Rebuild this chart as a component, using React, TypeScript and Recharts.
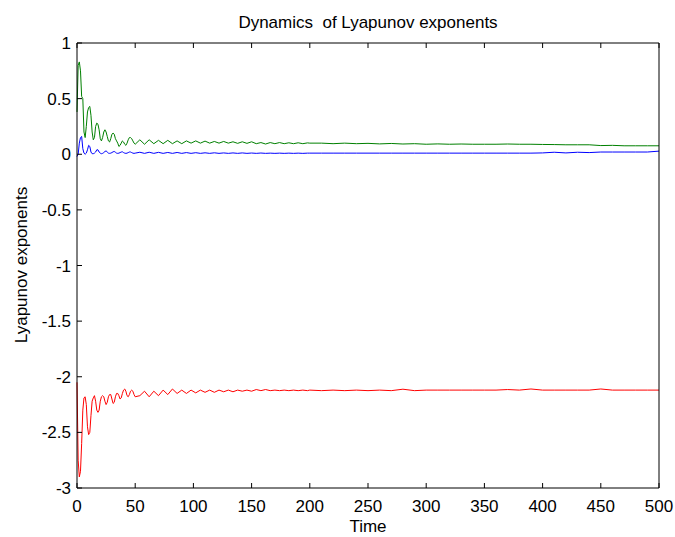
import { LineChart, Line, XAxis, YAxis, Label } from "recharts"

// time samples (dense at the start, coarser later)
const times = [
  0, 1, 2, 3, 4, 5, 6, 7, 8, 9, 10, 11, 12, 13, 14, 15, 16, 17, 18, 19, 20,
  21, 22, 23, 24, 25, 26, 27, 28, 29, 30, 31, 32, 33, 34, 35, 36, 37, 38, 39, 40,
  41, 42, 43, 44, 45, 46, 47, 48, 49, 50,
  54, 58, 62, 66, 70, 74, 78, 82, 86, 90, 94, 98, 102, 106, 110, 114, 118, 122,
  126, 130, 134, 138, 142, 146, 150, 154, 158, 162, 166, 170, 174, 178, 182, 186,
  190, 194, 198,
  200, 210, 220, 230, 240, 250, 260, 270, 280, 290, 300, 310, 320, 330, 340, 350,
  360, 370, 380, 390, 400, 410, 420, 430, 440, 450, 460, 470, 480, 490, 500,
]

const green = [
  0.38, 0.8, 0.83, 0.75, 0.52, 0.5, 0.2, 0.15, 0.25, 0.38,
  0.42, 0.43, 0.35, 0.2, 0.13, 0.15, 0.25, 0.28, 0.27, 0.22,
  0.14, 0.12, 0.15, 0.2, 0.22, 0.2, 0.16, 0.12, 0.11, 0.14,
  0.18, 0.19, 0.18, 0.14, 0.12, 0.1, 0.07, 0.08, 0.1, 0.12,
  0.11, 0.09, 0.08, 0.1, 0.13, 0.15, 0.15, 0.14, 0.12, 0.1, 0.09,
  0.13, 0.09, 0.13, 0.095, 0.125, 0.095, 0.125, 0.095, 0.12, 0.095,
  0.12, 0.1, 0.12, 0.1, 0.118, 0.1, 0.115, 0.1, 0.115, 0.1,
  0.112, 0.098, 0.112, 0.098, 0.112, 0.095, 0.105, 0.092, 0.105, 0.095,
  0.105, 0.095, 0.103, 0.095, 0.103, 0.095, 0.102,
  0.1, 0.1, 0.095, 0.1, 0.095, 0.098, 0.093, 0.097, 0.092, 0.095,
  0.09, 0.093, 0.09, 0.092, 0.09, 0.09, 0.09, 0.092, 0.09, 0.09,
  0.088, 0.087, 0.085, 0.085, 0.085, 0.078, 0.08, 0.076, 0.076, 0.076, 0.076,
]

const blue = [
  -0.02, 0.0, 0.1, 0.15, 0.16, 0.05, 0.01, 0.0, 0.01, 0.04,
  0.08, 0.07, 0.02, 0.005, 0.005, 0.01, 0.02, 0.04, 0.04, 0.02,
  0.01, 0.005, 0.008, 0.015, 0.025, 0.03, 0.02, 0.01, 0.008, 0.01,
  0.015, 0.022, 0.025, 0.018, 0.01, 0.008, 0.01, 0.015, 0.02, 0.022,
  0.015, 0.01, 0.008, 0.01, 0.015, 0.02, 0.02, 0.015, 0.01, 0.008, 0.01,
  0.018, 0.008, 0.018, 0.008, 0.017, 0.008, 0.016, 0.008, 0.016, 0.008,
  0.015, 0.008, 0.014, 0.008, 0.013, 0.008, 0.013, 0.008, 0.012, 0.008,
  0.012, 0.008, 0.012, 0.008, 0.011, 0.008, 0.011, 0.008, 0.01, 0.008,
  0.01, 0.008, 0.01, 0.008, 0.01, 0.008, 0.01,
  0.01, 0.01, 0.01, 0.01, 0.01, 0.01, 0.01, 0.01, 0.01, 0.01,
  0.01, 0.01, 0.01, 0.01, 0.01, 0.01, 0.01, 0.01, 0.01, 0.01,
  0.012, 0.018, 0.012, 0.018, 0.015, 0.02, 0.02, 0.02, 0.02, 0.02, 0.028,
]

const red = [
  -2.05, -2.75, -2.9, -2.85, -2.6, -2.3, -2.19, -2.18, -2.25, -2.45,
  -2.52, -2.5, -2.35, -2.22, -2.19, -2.17, -2.22, -2.3, -2.32, -2.3,
  -2.22, -2.18, -2.17, -2.18, -2.22, -2.25, -2.23, -2.18, -2.16, -2.16,
  -2.2, -2.24, -2.23, -2.18, -2.15, -2.15, -2.17, -2.2, -2.19, -2.15,
  -2.12, -2.11, -2.13, -2.17, -2.18, -2.16, -2.13, -2.12, -2.13, -2.16, -2.18,
  -2.17, -2.13, -2.18, -2.13, -2.17, -2.12, -2.16, -2.11, -2.15, -2.12,
  -2.15, -2.12, -2.145, -2.12, -2.14, -2.12, -2.14, -2.12, -2.135, -2.12,
  -2.135, -2.12, -2.13, -2.12, -2.13, -2.115, -2.125, -2.115, -2.125, -2.12,
  -2.125, -2.12, -2.125, -2.12, -2.125, -2.12, -2.125,
  -2.12, -2.125, -2.12, -2.125, -2.12, -2.125, -2.12, -2.125, -2.112, -2.125,
  -2.12, -2.12, -2.12, -2.12, -2.12, -2.12, -2.12, -2.115, -2.12, -2.11,
  -2.12, -2.12, -2.12, -2.12, -2.12, -2.11, -2.12, -2.12, -2.12, -2.12, -2.12,
]

const xTicks = [0, 50, 100, 150, 200, 250, 300, 350, 400, 450, 500]
const yTicks = [-3, -2.5, -2, -1.5, -1, -0.5, 0, 0.5, 1]

const data = times.map((t, i) => ({ t, g: green[i], b: blue[i], r: red[i] }))

const FONT = "'Liberation Sans', Arial, sans-serif"
const TICK = 5

const BottomTick = ({ x, y, payload }: any) => (
  <g>
    <line x1={x} y1={y} x2={x} y2={y - TICK} stroke="#000" />
    <text x={x} y={y + 24} textAnchor="middle" fontSize={17} fontFamily={FONT} fill="#000">
      {payload.value}
    </text>
  </g>
)

const TopTick = ({ x, y }: any) => (
  <line x1={x} y1={y} x2={x} y2={y + TICK} stroke="#000" />
)

const LeftTick = ({ x, y, payload }: any) => (
  <g>
    <line x1={x} y1={y} x2={x + TICK} y2={y} stroke="#000" />
    <text x={x - 6} y={y + 6} textAnchor="end" fontSize={17} fontFamily={FONT} fill="#000">
      {payload.value}
    </text>
  </g>
)

const RightTick = ({ x, y }: any) => (
  <line x1={x} y1={y} x2={x - TICK} y2={y} stroke="#000" />
)

export default function App() {
  return (
    <div style={{ position: "absolute", left: 0, top: 0, background: "#fff" }}>
      <LineChart
        width={675}
        height={537}
        data={data}
        margin={{ top: 42, right: 15, bottom: 0, left: 0 }}
      >
        <XAxis
          dataKey="t"
          type="number"
          domain={[0, 500]}
          ticks={xTicks}
          interval={0}
          height={49}
          tickSize={0}
          tickMargin={0}
          tickLine={false}
          axisLine={{ stroke: "#000" }}
          tick={<BottomTick />}
        >
          <Label
            value="Time"
            position="insideBottom"
            offset={5}
            style={{ fontSize: 17, fontFamily: FONT, fill: "#000" }}
          />
        </XAxis>
        <XAxis
          xAxisId="top"
          orientation="top"
          dataKey="t"
          type="number"
          domain={[0, 500]}
          ticks={xTicks}
          interval={0}
          height={1}
          tickSize={0}
          tickMargin={0}
          tickLine={false}
          axisLine={{ stroke: "#000" }}
          tick={<TopTick />}
        >
          <Label
            content={() => (
              <text
                x={368}
                y={28}
                textAnchor="middle"
                fontSize={17}
                fontFamily={FONT}
                fill="#000"
                style={{ whiteSpace: "pre" }}
              >
                Dynamics  of Lyapunov exponents
              </text>
            )}
          />
        </XAxis>
        <YAxis
          type="number"
          domain={[-3, 1]}
          ticks={yTicks}
          interval={0}
          width={77}
          tickSize={0}
          tickMargin={0}
          tickLine={false}
          axisLine={{ stroke: "#000" }}
          tick={<LeftTick />}
        >
          <Label
            content={() => (
              <text
                x={21}
                y={265}
                transform="rotate(-90, 21, 265)"
                textAnchor="middle"
                dominantBaseline="central"
                fontSize={17}
                fontFamily={FONT}
                fill="#000"
              >
                Lyapunov exponents
              </text>
            )}
          />
        </YAxis>
        <YAxis
          yAxisId="right"
          orientation="right"
          type="number"
          domain={[-3, 1]}
          ticks={yTicks}
          interval={0}
          width={1}
          tickSize={0}
          tickMargin={0}
          tickLine={false}
          axisLine={{ stroke: "#000" }}
          tick={<RightTick />}
        />
        <Line dataKey="g" stroke="#008000" strokeWidth={1} dot={false} type="linear" isAnimationActive={false} />
        <Line dataKey="b" stroke="#0000ff" strokeWidth={1} dot={false} type="linear" isAnimationActive={false} />
        <Line dataKey="r" stroke="#ff0000" strokeWidth={1} dot={false} type="linear" isAnimationActive={false} />
      </LineChart>
    </div>
  )
}
